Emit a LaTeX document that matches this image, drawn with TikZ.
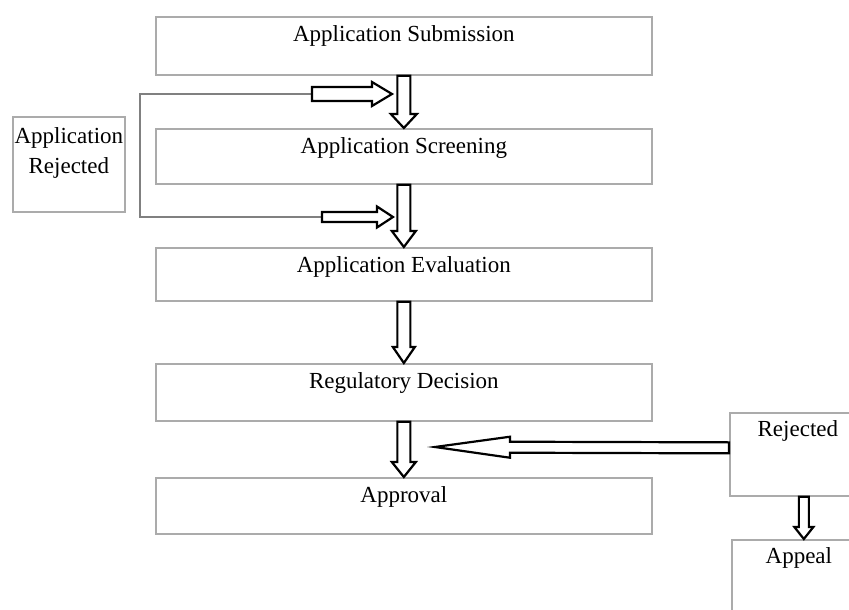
\documentclass[tikz,border=0pt]{standalone}
\usepackage{fontspec}
\setmainfont{Liberation Serif}
\usetikzlibrary{calc}
\definecolor{boxgray}{HTML}{ABABAB}
\definecolor{linegray}{HTML}{808080}
% block (hollow) arrow: tail, tip, shaft half width, head half width, head length
\newcommand{\blockarrow}[5]{%
  \draw[blkline] ($(#1)!#3!90:(#2)$)
    -- ($($(#2)!#5!(#1)$)!#3!90:(#2)$)
    -- ($($(#2)!#5!(#1)$)!#4!90:(#2)$)
    -- (#2)
    -- ($($(#2)!#5!(#1)$)!#4!-90:(#2)$)
    -- ($($(#2)!#5!(#1)$)!#3!-90:(#2)$)
    -- ($(#1)!#3!-90:(#2)$) -- cycle;}
\begin{document}
\begin{tikzpicture}[x=1pt,y=-1pt,
  txt/.style={font=\fontsize{23}{30}\selectfont, text=black},
  mainbox/.style={txt, draw=boxgray, line width=1.7pt, anchor=north west,
    inner xsep=0pt, inner ysep=8pt, text height=17pt, minimum width=496pt},
  sidebox/.style={txt, draw=boxgray, line width=1.7pt, anchor=north west,
    inner xsep=0pt, inner ysep=8pt, text height=16pt},
  blkline/.style={draw=black, line width=2.2pt, fill=white, line join=miter},
  loopline/.style={draw=linegray, line width=2pt}]
\useasboundingbox (0,0) rectangle (849,610);
\clip (0,0) rectangle (849,610);
\fill[white] (0,0) rectangle (849,610);
% main column
\node[mainbox, text depth=25pt] (sub) at (155,16)  {Application Submission};
\node[mainbox, text depth=22pt] (scr) at (155,128) {Application Screening};
\node[mainbox, text depth=20pt] (eva) at (155,247) {Application Evaluation};
\node[mainbox, text depth=24pt] (dec) at (155,363) {Regulatory Decision};
\node[mainbox, text depth=23pt] (apr) at (155,477) {Approval};
% side boxes
\node[sidebox, minimum width=112pt, text height=19pt, text depth=60pt] (arj) at (12,116)
  {\begin{tabular}[t]{@{}c@{}}Application\\Rejected\end{tabular}};
\node[sidebox, minimum width=136pt, text depth=51pt] (rej) at (729,412) {Rejected};
\node[sidebox, minimum width=134pt, text depth=68pt] (apl) at (731,539) {Appeal};
% loop bracket with hollow arrows
\coordinate (l1) at (312,94);
\coordinate (t1) at (392,94);
\coordinate (l2) at (322,217);
\coordinate (t2) at (393,217);
\coordinate (c1) at (140,94);
\coordinate (c2) at (140,217);
\draw[loopline] (l1) -- (c1) -- (c2) -- (l2);
\blockarrow{l1}{t1}{7pt}{12pt}{20pt}
\blockarrow{l2}{t2}{5pt}{10.5pt}{16pt}
% main downward arrows
\blockarrow{sub.south}{scr.north}{6.5pt}{13pt}{14pt}
\blockarrow{scr.south}{eva.north}{6.5pt}{12pt}{16pt}
\blockarrow{eva.south}{dec.north}{6.5pt}{11pt}{16pt}
\blockarrow{dec.south}{apr.north}{6.5pt}{12pt}{15pt}
% rejected branch
\coordinate (rt) at ($(rej.west)+(0,-6.5)$);
\coordinate (lt) at (435,447);
\blockarrow{rt}{lt}{5.5pt}{10.5pt}{75pt}
\coordinate (ra) at ($(rej.south)+(6,0)$);
\coordinate (rb) at ($(apl.north)+(5,0)$);
\blockarrow{ra}{rb}{5pt}{9.5pt}{12pt}
\end{tikzpicture}
\end{document}
